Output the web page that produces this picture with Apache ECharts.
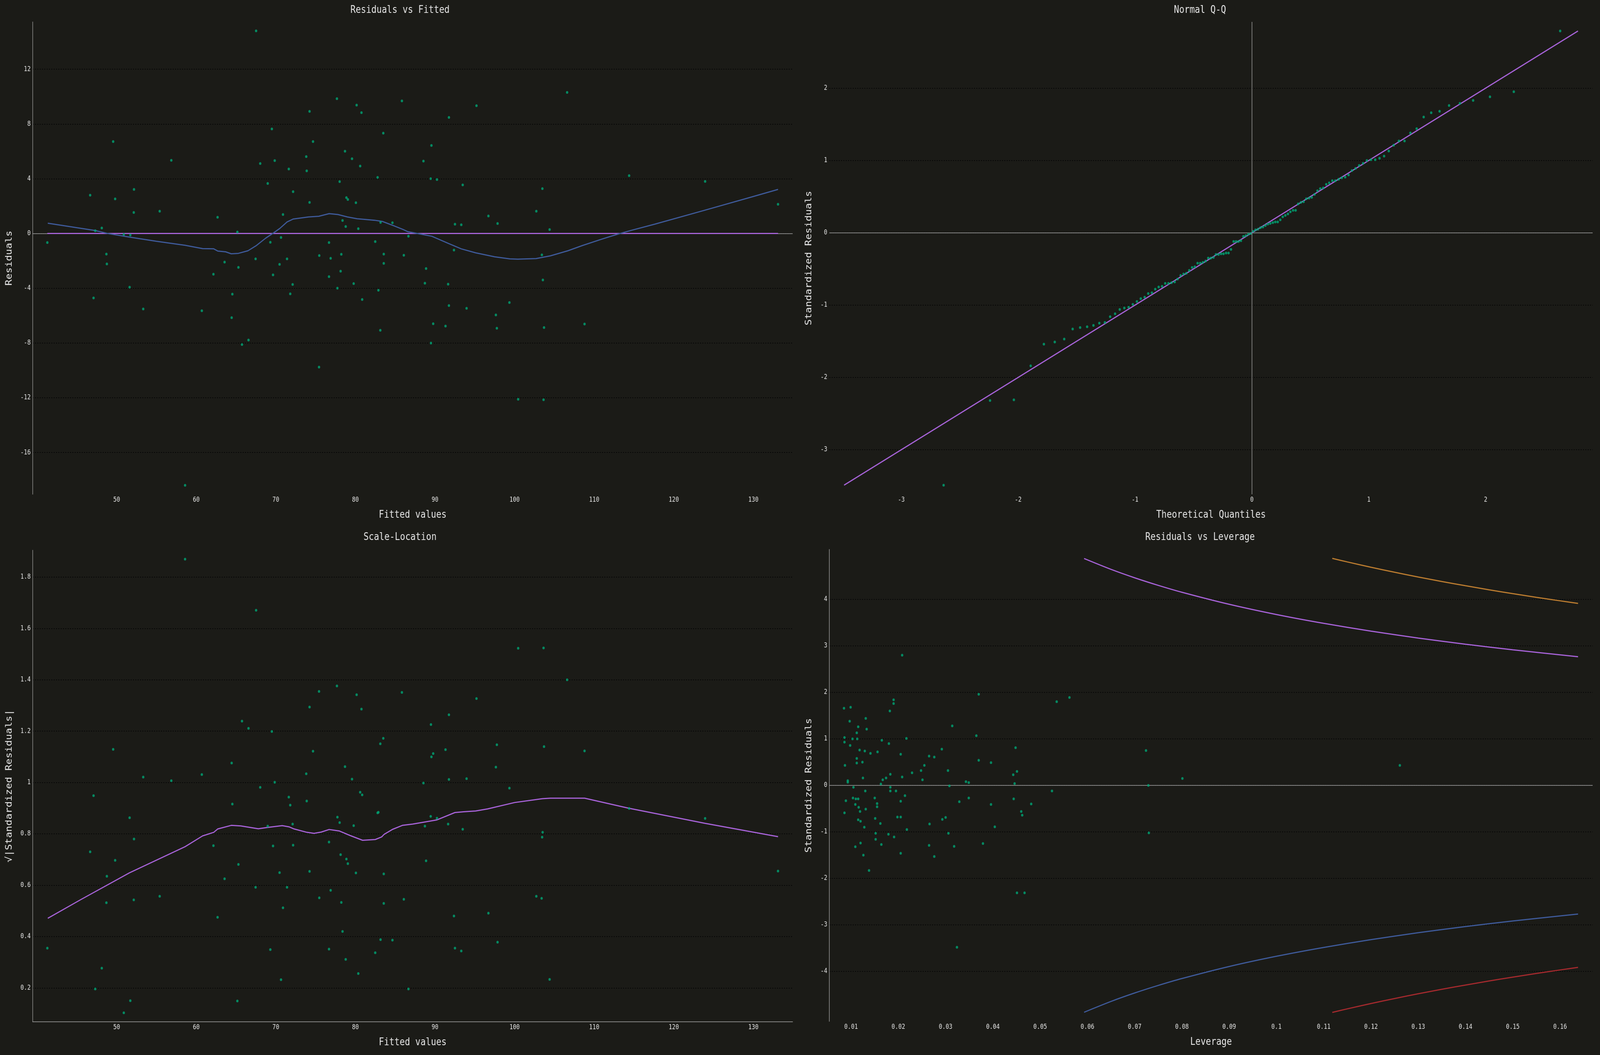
<!DOCTYPE html>
<html>
<head>
<meta charset="utf-8">
<script src="https://cdn.jsdelivr.net/npm/echarts@6/dist/echarts.min.js"></script>
<style>
  html, body { margin: 0; padding: 0; background: #1b1b17; overflow: hidden; }
  #chart { width: 4800px; height: 2700px; transform-origin: 0 0; }
</style>
</head>
<body>
<div id="chart"></div>
<script>
// Regression diagnostics — four panels.

// Residuals vs Fitted
const fitted1 = [67.52, 77.68, 80.15, 80.76, 74.24, 85.84, 69.50, 83.50, 49.56, 74.67, 78.69, 79.57, 80.60, 56.87, 68.04, 69.86, 73.82, 71.63, 73.88, 82.79, 68.98, 78.02, 72.17, 46.67, 49.81, 52.18, 78.87, 79.05, 74.24, 80.06, 52.15, 55.41, 62.68, 70.90, 78.38, 78.78, 80.36, 83.16, 84.65, 47.31, 48.13, 65.17, 50.90, 51.72, 41.29, 69.31, 70.65, 76.68, 82.49, 86.66, 48.71, 48.77, 63.56, 65.30, 67.46, 70.47, 71.41, 75.46, 76.89, 78.23, 83.56, 83.56, 86.08, 62.16, 69.65, 76.68, 78.14, 72.11, 79.78, 51.63, 77.74, 82.89, 47.10, 64.54, 71.81, 80.85, 53.34, 60.70, 64.45, 83.13, 66.57, 65.75, 75.43, 58.60, 106.60, 95.21, 91.75, 89.55, 88.55, 89.46, 90.25, 93.48, 103.49, 114.39, 123.94, 133.10, 102.73, 96.71, 92.51, 93.30, 97.86, 104.40, 92.38, 103.43, 88.88, 88.73, 91.65, 103.55, 91.75, 93.97, 99.35, 97.65, 89.77, 91.32, 97.77, 103.70, 108.79, 89.49, 100.45, 103.64];
const resid1 = [14.80, 9.85, 9.38, 8.83, 8.92, 9.69, 7.64, 7.33, 6.72, 6.72, 6.01, 5.46, 4.93, 5.35, 5.11, 5.33, 5.62, 4.71, 4.58, 4.10, 3.66, 3.79, 3.06, 2.80, 2.53, 3.22, 2.62, 2.49, 2.27, 2.25, 1.54, 1.63, 1.19, 1.39, 0.95, 0.51, 0.35, 0.81, 0.79, 0.20, 0.40, 0.11, -0.07, -0.11, -0.66, -0.64, -0.29, -0.66, -0.59, -0.20, -1.50, -2.22, -2.09, -2.47, -1.85, -2.25, -1.85, -1.61, -1.81, -1.52, -1.50, -2.18, -1.59, -2.97, -3.02, -3.15, -2.75, -3.72, -3.66, -3.92, -3.99, -4.14, -4.71, -4.43, -4.41, -4.82, -5.51, -5.64, -6.15, -7.07, -7.78, -8.11, -9.76, -18.39, 10.31, 9.34, 8.48, 6.43, 5.29, 4.01, 3.94, 3.55, 3.28, 4.23, 3.81, 2.14, 1.63, 1.28, 0.68, 0.64, 0.73, 0.29, -1.21, -1.56, -2.56, -3.63, -3.70, -3.39, -5.26, -5.46, -5.04, -5.95, -6.59, -6.76, -6.92, -6.87, -6.61, -8.00, -12.11, -12.14];
const loess1X = [41.35, 47.31, 48.9, 51.6, 55.0, 58.6, 60.8, 62.2, 62.7, 63.7, 64.4, 65.3, 66.5, 67.5, 68.7, 69.6, 70.5, 71.4, 72.2, 74.1, 75.4, 76.7, 77.8, 79.0, 80.2, 82.4, 83.4, 84.8, 86.0, 86.6, 87.2, 89.6, 91.7, 93.3, 95.1, 97.5, 99.4, 100.4, 102.7, 104.5, 106.7, 108.5, 110.9, 113.0, 114.6, 117.6, 123.7, 129.8, 133.1];
const loess1Y = [0.75, 0.22, 0, -0.26, -0.57, -0.86, -1.10, -1.12, -1.28, -1.34, -1.48, -1.45, -1.26, -0.90, -0.35, 0, 0.37, 0.84, 1.06, 1.21, 1.26, 1.45, 1.39, 1.21, 1.08, 0.97, 0.88, 0.57, 0.29, 0.13, 0.07, -0.20, -0.73, -1.12, -1.41, -1.70, -1.85, -1.87, -1.83, -1.63, -1.26, -0.88, -0.42, -0.04, 0.22, 0.68, 1.67, 2.67, 3.22];
const ref1X = [41.29, 133.10];
const ref1Y = [0, 0];
const fittedTicks = [50, 60, 70, 80, 90, 100, 110, 120, 130];
const residTicks = [-16, -12, -8, -4, 0, 4, 8, 12];

// Normal Q-Q
const qqTheo = [-2.638, -2.241, -2.037, -1.893, -1.780, -1.687, -1.606, -1.534, -1.470, -1.410, -1.356, -1.306, -1.258, -1.213, -1.171, -1.131, -1.092, -1.055, -1.019, -0.984, -0.951, -0.918, -0.887, -0.856, -0.827, -0.798, -0.769, -0.742, -0.714, -0.688, -0.661, -0.636, -0.610, -0.585, -0.561, -0.536, -0.512, -0.489, -0.465, -0.442, -0.419, -0.396, -0.374, -0.352, -0.329, -0.308, -0.286, -0.264, -0.243, -0.221, -0.200, -0.179, -0.157, -0.136, -0.115, -0.094, -0.073, -0.052, -0.031, -0.010,
  0.010, 0.031, 0.052, 0.073, 0.094, 0.115, 0.136, 0.157, 0.179, 0.200, 0.221, 0.243, 0.264, 0.286, 0.308, 0.329, 0.352, 0.374, 0.396, 0.419, 0.442, 0.465, 0.489, 0.512, 0.536, 0.561, 0.585, 0.610, 0.636, 0.661, 0.688, 0.714, 0.742, 0.769, 0.798, 0.827, 0.856, 0.887, 0.918, 0.951, 0.984, 1.019, 1.055, 1.092, 1.131, 1.171, 1.213, 1.258, 1.306, 1.356, 1.410, 1.470, 1.534, 1.606, 1.687, 1.780, 1.893, 2.037, 2.241, 2.638];
const qqSample = [-3.49, -2.32, -2.31, -1.84, -1.54, -1.51, -1.47, -1.33, -1.31, -1.30, -1.28, -1.25, -1.24, -1.16, -1.12, -1.06, -1.04, -1.03, -0.99, -0.95, -0.91, -0.89, -0.84, -0.83, -0.78, -0.75, -0.74, -0.70, -0.70, -0.69, -0.68, -0.64, -0.59, -0.57, -0.56, -0.52, -0.48, -0.47, -0.42, -0.42, -0.41, -0.39, -0.35, -0.35, -0.34, -0.30, -0.30, -0.29, -0.29, -0.28, -0.28, -0.23, -0.12, -0.12, -0.12, -0.11, -0.05, -0.04, -0.02, -0.01,
  0.02, 0.04, 0.05, 0.07, 0.08, 0.10, 0.12, 0.13, 0.14, 0.15, 0.15, 0.18, 0.22, 0.24, 0.26, 0.29, 0.31, 0.31, 0.40, 0.42, 0.43, 0.47, 0.48, 0.49, 0.53, 0.58, 0.61, 0.62, 0.67, 0.69, 0.72, 0.72, 0.74, 0.76, 0.77, 0.80, 0.86, 0.89, 0.93, 0.96, 1.00, 1.01, 1.01, 1.03, 1.06, 1.13, 1.21, 1.27, 1.27, 1.38, 1.44, 1.60, 1.66, 1.68, 1.76, 1.79, 1.83, 1.88, 1.95, 2.79];
const qqLineX = [-3.49, 2.79];
const qqLineY = [-3.49, 2.79];
const qqXTicks = [-3, -2, -1, 0, 1, 2];
const qqYTicks = [-3, -2, -1, 0, 1, 2];

// Scale-Location
const fitted3 = [58.60, 67.52, 75.43, 77.68, 80.15, 85.84, 74.24, 80.76, 65.75, 66.57, 69.50, 83.50, 83.13, 49.56, 74.67, 64.45, 78.69, 53.34, 60.70, 56.87, 73.82, 69.86, 79.57, 68.04, 47.10, 80.60, 80.85, 71.63, 73.88, 71.81, 64.54, 51.63, 82.79, 82.89, 77.74, 78.02, 68.98, 72.11, 79.78, 52.18, 62.16, 69.65, 72.17, 76.68, 46.67, 49.81, 65.30, 78.14, 78.87, 79.05, 48.77, 70.47, 74.24, 80.06, 83.56, 63.56, 67.46, 71.41, 76.89, 55.41, 48.71, 52.15, 75.46, 78.23, 83.56, 86.08, 70.90, 62.68, 78.38, 41.29, 69.31, 76.68, 83.16, 84.65, 82.49, 48.13, 78.78, 80.36, 70.65, 47.31, 86.66, 51.72, 65.17, 50.90, 100.45, 103.64, 106.60, 95.21, 91.75, 89.49, 97.77, 103.70, 91.32, 89.77, 89.55, 108.79, 97.65, 91.75, 93.97, 88.55, 99.35, 89.46, 90.25, 91.65, 88.73, 93.48, 114.39, 123.94, 103.52, 103.46, 88.88, 133.10, 102.73, 103.40, 92.38, 96.71, 97.86, 92.51, 93.30, 104.40];
const sqrtStd3 = [1.870, 1.671, 1.355, 1.376, 1.342, 1.351, 1.294, 1.286, 1.239, 1.211, 1.199, 1.172, 1.151, 1.129, 1.122, 1.076, 1.062, 1.021, 1.031, 1.007, 1.034, 1.001, 1.013, 0.981, 0.949, 0.962, 0.952, 0.943, 0.928, 0.912, 0.916, 0.863, 0.882, 0.884, 0.865, 0.844, 0.830, 0.838, 0.832, 0.780, 0.754, 0.753, 0.756, 0.768, 0.730, 0.697, 0.681, 0.719, 0.702, 0.684, 0.635, 0.649, 0.654, 0.648, 0.644, 0.625, 0.592, 0.592, 0.580, 0.557, 0.532, 0.543, 0.551, 0.533, 0.529, 0.545, 0.512, 0.475, 0.420, 0.355, 0.349, 0.351, 0.388, 0.386, 0.337, 0.277, 0.311, 0.256, 0.232, 0.196, 0.196, 0.150, 0.149, 0.103, 1.523, 1.524, 1.400, 1.327, 1.264, 1.226, 1.147, 1.140, 1.128, 1.113, 1.100, 1.123, 1.060, 1.012, 1.015, 0.998, 0.978, 0.868, 0.861, 0.838, 0.830, 0.818, 0.899, 0.860, 0.806, 0.787, 0.695, 0.655, 0.557, 0.549, 0.480, 0.491, 0.378, 0.355, 0.344, 0.233];
const loess3X = [41.35, 45.5, 51.6, 58.6, 60.8, 62.2, 62.7, 64.4, 65.6, 67.8, 69.0, 70.8, 71.7, 72.3, 73.9, 74.8, 75.7, 76.7, 78.0, 79.3, 80.9, 82.5, 83.3, 83.6, 84.7, 85.9, 87.2, 90.2, 92.5, 93.6, 95.1, 96.6, 100.0, 103.5, 104.5, 108.8, 114.3, 123.9, 133.1];
const loess3Y = [0.471, 0.544, 0.648, 0.750, 0.792, 0.806, 0.819, 0.833, 0.831, 0.820, 0.825, 0.832, 0.827, 0.819, 0.806, 0.802, 0.807, 0.817, 0.811, 0.794, 0.775, 0.778, 0.788, 0.798, 0.818, 0.833, 0.838, 0.854, 0.883, 0.886, 0.889, 0.897, 0.922, 0.937, 0.939, 0.939, 0.900, 0.841, 0.789];
const slTicks = [0.2, 0.4, 0.6, 0.8, 1, 1.2, 1.4, 1.6, 1.8];

// Residuals vs Leverage
const lev4 = [0.0085, 0.0099, 0.0097, 0.0086, 0.0086, 0.0103, 0.0113, 0.0098, 0.0112, 0.0115, 0.0131, 0.0133, 0.0118, 0.0129, 0.0141, 0.0156, 0.0165, 0.0112, 0.0112, 0.0124, 0.0087, 0.0093, 0.0093, 0.0125, 0.0105, 0.0104, 0.0110, 0.0115, 0.0089, 0.0109, 0.0116, 0.0130, 0.0131, 0.0119, 0.0086, 0.0115, 0.0120, 0.0128, 0.0151, 0.0162, 0.0150, 0.0155, 0.0155, 0.0152, 0.0152, 0.0120, 0.0109, 0.0164, 0.0126, 0.0138, 0.0167, 0.0163, 0.0174, 0.0183, 0.0180, 0.0182, 0.0190, 0.0190, 0.0208, 0.0205, 0.0217, 0.0208, 0.0183, 0.0183, 0.0195, 0.0214, 0.0205, 0.0198, 0.0205, 0.0218, 0.0179, 0.0191, 0.0205, 0.0229, 0.0248, 0.0251, 0.0255, 0.0265, 0.0276, 0.0292, 0.0305, 0.0308, 0.0314, 0.0293, 0.0300, 0.0266, 0.0306, 0.0265, 0.0276, 0.0318, 0.0324, 0.0329, 0.0343, 0.0349, 0.0349, 0.0365, 0.0370, 0.0370, 0.0396, 0.0396, 0.0379, 0.0404, 0.0448, 0.0443, 0.0451, 0.0446, 0.0444, 0.0460, 0.0462, 0.0481, 0.0451, 0.0467, 0.0525, 0.0535, 0.0562, 0.0724, 0.0729, 0.0730, 0.0801, 0.1261];
const std4 = [1.66, 1.68, 1.38, 1.03, 0.93, 1.00, 1.00, 0.86, 1.13, 1.26, 1.44, 1.21, 0.76, 0.74, 0.69, 0.72, 0.97, 0.58, 0.48, 0.50, 0.43, 0.10, 0.07, 0.16, -0.04, -0.27, -0.29, -0.29, -0.33, -0.41, -0.47, -0.12, -0.51, -0.56, -0.59, -0.74, -0.77, -0.90, -0.71, -0.82, -0.27, -0.39, -0.46, -1.03, -1.16, -1.24, -1.32, -1.27, -1.50, -1.83, 0.12, 0.03, 0.16, 0.24, 0.90, 1.60, 1.76, 1.84, 2.80, 0.67, 1.01, 0.18, -0.04, -0.12, -0.12, -0.22, -0.34, -0.68, -0.68, -0.95, -1.05, -1.11, -1.46, 0.27, 0.32, 0.12, 0.43, 0.63, 0.61, 0.78, 0.32, -0.01, 1.28, -0.73, -0.69, -0.83, -1.03, -1.29, -1.53, -1.31, -3.48, -0.35, 0.08, 0.06, -0.27, 1.07, 0.54, 1.96, 0.49, -0.41, -1.25, -0.89, 0.81, 0.23, 0.30, 0.04, -0.29, -0.56, -0.64, -0.40, -2.31, -2.31, -0.12, 1.80, 1.89, 0.75, 0.00, -1.02, 0.15, 0.43];
const cookHalfX = [0.0593, 0.065, 0.07, 0.075, 0.08, 0.09, 0.10, 0.11, 0.12, 0.13, 0.14, 0.15, 0.1638];
const cookHalfUp = [4.878, 4.645, 4.464, 4.301, 4.153, 3.894, 3.674, 3.484, 3.317, 3.168, 3.036, 2.915, 2.767];
const cookHalfDown = [-4.878, -4.645, -4.464, -4.301, -4.153, -3.894, -3.674, -3.484, -3.317, -3.168, -3.036, -2.915, -2.767];
const cookOneX = [0.1118, 0.115, 0.12, 0.125, 0.13, 0.135, 0.14, 0.145, 0.15, 0.155, 0.16, 0.1638];
const cookOneUp = [4.882, 4.805, 4.690, 4.583, 4.481, 4.384, 4.293, 4.206, 4.123, 4.044, 3.969, 3.913];
const cookOneDown = [-4.882, -4.805, -4.690, -4.583, -4.481, -4.384, -4.293, -4.206, -4.123, -4.044, -3.969, -3.913];
const levTicks = [0.01, 0.02, 0.03, 0.04, 0.05, 0.06, 0.07, 0.08, 0.09, 0.1, 0.11, 0.12, 0.13, 0.14, 0.15, 0.16];
const std4Ticks = [-4, -3, -2, -1, 0, 1, 2, 3, 4];

const MONO = "'DejaVu Sans Mono', monospace";
const TEXT = "#e6e6e6";
const POINT = "#00a676";
const BLUE = "#3f5b9b";
const PURPLE = "#a763d8";
const ORANGE = "#bb7c30";
const RED = "#a42a2e";
const AXIS_GRAY = "#a8a8a8";

function zip(xs, ys) {
  return xs.map((x, i) => [x, ys[i]]);
}

function xAxisFor(gridIndex, min, max, ticks, name, showLine) {
  return {
    type: "value", gridIndex, min, max,
    name, nameLocation: "middle", nameGap: 40,
    nameTextStyle: { color: TEXT, fontSize: 26, fontFamily: MONO },
    axisLine: { show: !!showLine, onZero: false, lineStyle: { color: AXIS_GRAY, width: 1.5 } },
    axisTick: { show: false, customValues: ticks },
    axisLabel: { customValues: ticks, color: TEXT, fontSize: 17, fontFamily: MONO, margin: 6 },
    splitLine: { show: false },
  };
}

function yAxisFor(gridIndex, min, max, ticks, name, showLine, gap) {
  return {
    type: "value", gridIndex, min, max,
    name, nameLocation: "middle", nameGap: gap,
    nameTextStyle: { color: TEXT, fontSize: 26, fontFamily: MONO },
    axisLine: { show: !!showLine, onZero: false, lineStyle: { color: AXIS_GRAY, width: 1.5 } },
    axisTick: { show: false, customValues: ticks },
    axisLabel: { customValues: ticks, color: TEXT, fontSize: 17, fontFamily: MONO, margin: 6 },
    splitLine: { show: true, lineStyle: { color: "#050505", width: 2, type: [3, 4] } },
  };
}

// gray axis lines drawn through zero, like the reference
function zeroLines(data) {
  return {
    silent: true, symbol: "none", z: 1, animation: false,
    label: { show: false },
    lineStyle: { color: AXIS_GRAY, type: "solid", width: 1.5 },
    data,
  };
}

function scatter(idx, xs, ys) {
  return {
    type: "scatter", xAxisIndex: idx, yAxisIndex: idx, z: 4,
    symbolSize: 7, itemStyle: { color: POINT },
    data: zip(xs, ys),
  };
}

function line(idx, xs, ys, color, smooth) {
  return {
    type: "line", xAxisIndex: idx, yAxisIndex: idx, z: 3,
    showSymbol: false, smooth: smooth || false,
    lineStyle: { color, width: 3 },
    data: zip(xs, ys),
  };
}

function title(text, left, top) {
  return {
    text, left, top, textAlign: "center", padding: 0,
    textStyle: { color: TEXT, fontSize: 26, fontWeight: "normal", fontFamily: MONO },
  };
}

// The chart is laid out at 4800x2700 and fitted to the actual window.
const chartEl = document.getElementById("chart");
chartEl.style.transform = `scale(${window.innerWidth / 4800}, ${window.innerHeight / 2700})`;
const chart = echarts.init(chartEl, null, { renderer: "canvas", width: 4800, height: 2700 });

chart.setOption({
  backgroundColor: "#1b1b17",
  animation: false,
  title: [
    title("Residuals vs Fitted", 1200, 13),
    title("Normal Q-Q", 3600, 13),
    title("Scale-Location", 1200, 1362),
    title("Residuals vs Leverage", 3600, 1362),
  ],
  grid: [
    { left: 98, top: 56, width: 2280, height: 1209 },
    { left: 2488, top: 56, width: 2290, height: 1209 },
    { left: 98, top: 1408, width: 2280, height: 1207 },
    { left: 2488, top: 1406, width: 2290, height: 1208 },
  ],
  xAxis: [
    xAxisFor(0, 39.45, 134.94, fittedTicks, "Fitted values", false),
    xAxisFor(1, -3.616, 2.916, qqXTicks, "Theoretical Quantiles", false),
    xAxisFor(2, 39.45, 134.94, fittedTicks, "Fitted values", true),
    xAxisFor(3, 0.0054, 0.1669, levTicks, "Leverage", false),
  ],
  yAxis: [
    yAxisFor(0, -19.05, 15.46, residTicks, "Residuals", true, 57),
    yAxisFor(1, -3.616, 2.916, qqYTicks, "Standardized Residuals", false, 48),
    yAxisFor(2, 0.068, 1.905, slTicks, "√|Standardized Residuals|", true, 57),
    yAxisFor(3, -5.075, 5.075, std4Ticks, "Standardized Residuals", true, 48),
  ],
  series: [
    // Residuals vs Fitted
    Object.assign(line(0, ref1X, ref1Y, PURPLE), { markLine: zeroLines([{ yAxis: 0 }]) }),
    line(0, loess1X, loess1Y, BLUE),
    scatter(0, fitted1, resid1),
    // Normal Q-Q
    Object.assign(line(1, qqLineX, qqLineY, PURPLE), { markLine: zeroLines([{ yAxis: 0 }, { xAxis: 0 }]) }),
    scatter(1, qqTheo, qqSample),
    // Scale-Location
    line(2, loess3X, loess3Y, PURPLE),
    scatter(2, fitted3, sqrtStd3),
    // Residuals vs Leverage
    Object.assign(line(3, cookHalfX, cookHalfUp, PURPLE, 0.3), { markLine: zeroLines([{ yAxis: 0 }]) }),
    line(3, cookOneX, cookOneUp, ORANGE, 0.3),
    line(3, cookHalfX, cookHalfDown, BLUE, 0.3),
    line(3, cookOneX, cookOneDown, RED, 0.3),
    scatter(3, lev4, std4),
  ],
});
</script>
</body>
</html>
